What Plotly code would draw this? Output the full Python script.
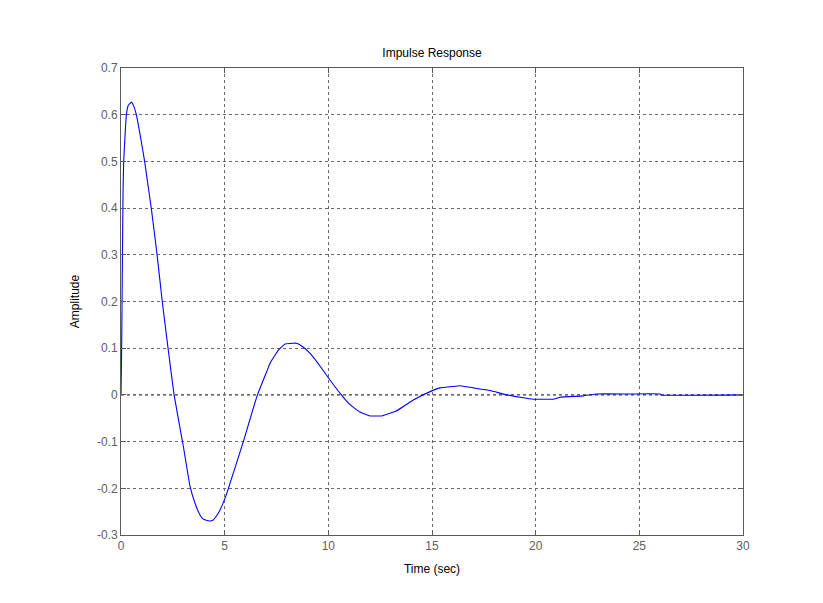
import plotly.graph_objects as go

# Impulse response
time_sec = [0, 0.03, 0.064, 0.10, 0.13, 0.20, 0.26, 0.35, 0.50, 0.60, 0.74, 0.95,
            1.14, 1.30, 1.46, 1.74, 1.99, 2.27, 2.56, 3.01, 3.33, 3.57, 3.81, 3.97,
            4.26, 4.45, 4.70, 5.02, 5.18, 5.9, 6.58, 7.03, 7.19, 7.59, 7.91, 8.31,
            8.47, 8.80, 9.12, 9.44, 10.08, 10.56, 11.05, 11.5, 12.01, 12.57, 13.3,
            14.1, 14.99, 15.39, 16.0, 16.35, 17.0, 17.8, 18.6, 19.25, 19.89, 20.36,
            20.85, 21.18, 22.3, 22.95, 24.5, 26.0, 26.05, 30.0]
amplitude = [0, 0.093, 0.272, 0.44, 0.5, 0.56, 0.6, 0.62, 0.627, 0.62, 0.6, 0.55,
             0.5, 0.45, 0.4, 0.3, 0.2, 0.1, 0.0, -0.111, -0.196, -0.232, -0.257, -0.266,
             -0.27, -0.268, -0.253, -0.221, -0.2, -0.1, 0.0, 0.05, 0.068, 0.096, 0.109,
             0.1107, 0.1107, 0.102, 0.089, 0.0714, 0.032, 0.004, -0.021, -0.036, -0.045,
             -0.045, -0.034, -0.011, 0.0086, 0.015, 0.018, 0.0195, 0.015, 0.0093, 0.0,
             -0.005, -0.0093, -0.0093, -0.0093, -0.005, -0.002, 0.002, 0.002, 0.002,
             0.0, 0.0]

x_ticks = [0, 5, 10, 15, 20, 25, 30]
y_ticks = [-0.3, -0.2, -0.1, 0, 0.1, 0.2, 0.3, 0.4, 0.5, 0.6, 0.7]
y_tick_text = ["-0.3", "-0.2", "-0.1", "0", "0.1", "0.2", "0.3", "0.4", "0.5", "0.6", "0.7"]

FONT = "Liberation Sans, Arial, sans-serif"
AXIS_COLOR = "#5a5a5a"

fig = go.Figure()
fig.add_trace(go.Scatter(x=time_sec, y=amplitude, mode="lines",
                         line=dict(color="#0000ff", width=1.1, shape="spline", smoothing=0.3),
                         showlegend=False, hoverinfo="x+y"))

# dashed black zero reference line
fig.add_shape(type="line", xref="paper", x0=0, x1=1, yref="y", y0=0, y1=0,
              line=dict(color="black", width=1, dash="3px,3px"), layer="below")

axis_common = dict(
    showline=True, linecolor=AXIS_COLOR, linewidth=1, mirror="ticks",
    ticks="inside", ticklen=5, tickcolor=AXIS_COLOR,
    showgrid=True, gridcolor="#6a6a6a", gridwidth=1, griddash="3px,3px",
    zeroline=False,
    tickfont=dict(family=FONT, size=12, color="#606060"),
)

W, H = 815, 595  # page body adds an 8px margin
fig.update_layout(
    width=W, height=H,
    paper_bgcolor="white", plot_bgcolor="white",
    margin=dict(l=113, r=80, t=60, b=68),
    title=dict(text="Impulse Response", x=(113 + 622 / 2) / W, xanchor="center",
               y=1 - 45 / H, yanchor="middle",
               font=dict(family=FONT, size=12, color="black")),
    xaxis=dict(range=[0, 30], tickvals=x_ticks,
               title=dict(text="Time (sec)", standoff=12,
                          font=dict(family=FONT, size=12, color="black")),
               **axis_common),
    yaxis=dict(range=[-0.3, 0.7], tickvals=y_ticks, ticktext=y_tick_text,
               title=dict(text="Amplitude", standoff=14,
                          font=dict(family=FONT, size=12, color="black")),
               **axis_common),
)

fig.write_html("out.html")
